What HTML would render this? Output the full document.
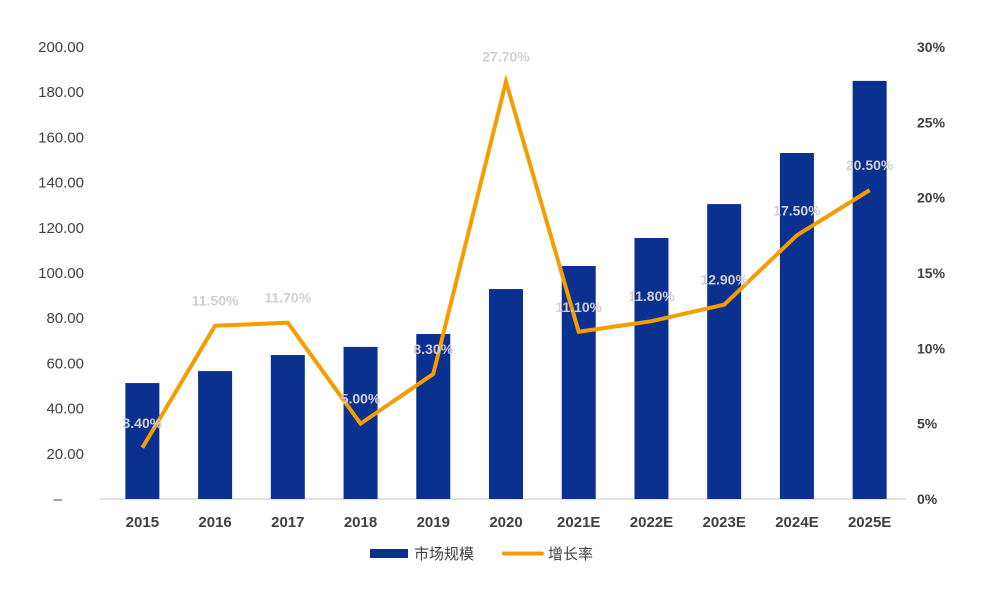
<!DOCTYPE html>
<html><head><meta charset="utf-8"><style>
body{margin:0;background:#fff;}
svg text{font-family:"Liberation Sans","Noto Sans CJK SC",sans-serif;}
</style></head><body>
<svg id="chart" width="981" height="594" xmlns="http://www.w3.org/2000/svg">
<g id="axes"></g><g id="bars"></g><g id="line"></g><g id="labels"></g>
<g>
<rect x="370" y="549" width="38" height="9" fill="#0a318f"/>
<text x="414" y="559" font-size="15" fill="#404040">市场规模</text>
<line x1="504" y1="553.5" x2="542" y2="553.5" stroke="#f59d00" stroke-width="4" stroke-linecap="round"/>
<text x="548" y="559" font-size="15" fill="#404040">增长率</text>
</g>
</svg>
<script>
const categories=["2015","2016","2017","2018","2019","2020","2021E","2022E","2023E","2024E","2025E"];
const marketSize=[51.3,56.6,63.7,67.3,73.0,92.9,103.1,115.5,130.5,153.1,185.0];
const growthRate=[3.4,11.5,11.7,5.0,8.3,27.7,11.1,11.8,12.9,17.5,20.5];
const leftTicks=[0,20,40,60,80,100,120,140,160,180,200];
const rightTicks=[0,5,10,15,20,25,30];
const NS="http://www.w3.org/2000/svg";
const x0=106,x1=906,yb=499,yt=47;
const step=(x1-x0)/categories.length;
const xc=i=>x0+step*(i+0.5);
const yL=v=>yb-(v/200)*(yb-yt);
const yR=v=>yb-(v/30)*(yb-yt);
function mk(tag,attrs,parent,txt){const e=document.createElementNS(NS,tag);for(const k in attrs)e.setAttribute(k,attrs[k]);if(txt!==undefined)e.textContent=txt;document.getElementById(parent).appendChild(e);return e;}
const axis=mk("line",{x1:x0-6,y1:yb,x2:x1,y2:yb,stroke:"#d9d9d9","stroke-width":1.5},"axes");


leftTicks.forEach(v=>{
 const t=mk("text",{x:84,y:yL(v)+5,"text-anchor":"end","font-size":15,fill:"#404040"},"axes",v===0?"–":v.toFixed(2));
 if(v===0){t.setAttribute("x",62);}
 
 
});
rightTicks.forEach(v=>{
 const t=mk("text",{x:917,y:yR(v)+5,"font-size":14,"font-weight":"bold",fill:"#404040"},"axes",v+"%");
 
 
});
categories.forEach((c,i)=>{
 const t=mk("text",{x:xc(i),y:527,"text-anchor":"middle","font-size":15,"font-weight":"bold",fill:"#404040"},"axes",c);
 
 
 const b=mk("rect",{x:xc(i)-17,y:yL(marketSize[i]),width:34,height:yb-yL(marketSize[i]),fill:"#0a318f"},"bars");
 
 
});
const pts=growthRate.map((v,i)=>xc(i)+","+yR(v)).join(" ");
const pl=mk("polyline",{points:pts,fill:"none",stroke:"#f59d00","stroke-width":4,"stroke-linejoin":"miter"},"line");


growthRate.forEach((v,i)=>{
 const t=mk("text",{x:xc(i),y:yR(v)-20,"text-anchor":"middle","font-size":14,"font-weight":"bold",fill:"#d0d0d0"},"labels",v.toFixed(2)+"%");
 
 
});
</script>
</body></html>
